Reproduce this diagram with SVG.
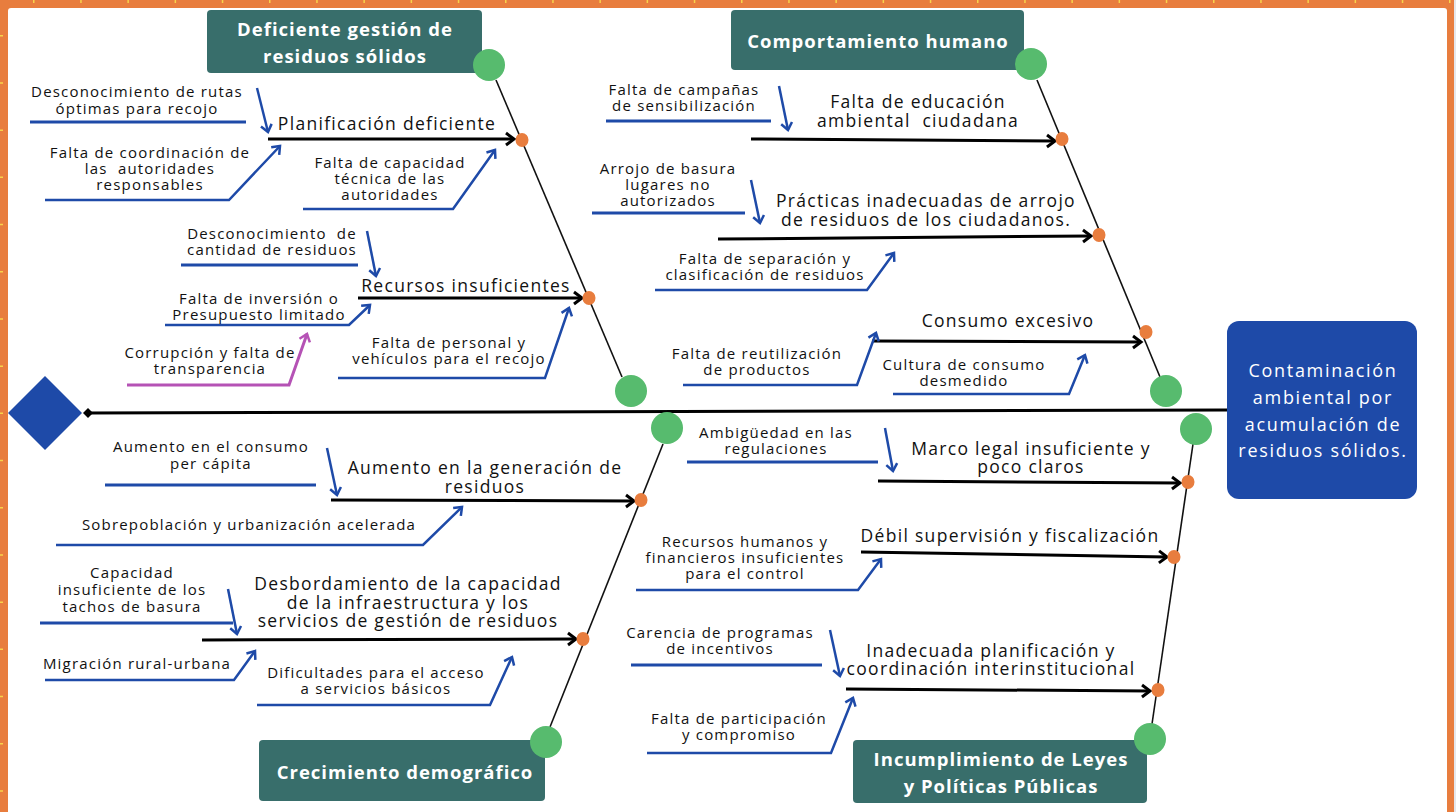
<svg xmlns="http://www.w3.org/2000/svg" width="1456" height="812" viewBox="0 0 1456 812">
<defs>
<style>
text{font-family:"Open Sans","Liberation Sans",sans-serif;dominant-baseline:central;text-anchor:middle}
.cat{font-weight:700;fill:#fff;font-size:18.5px;letter-spacing:1px}
.sub{font-size:17.5px;fill:#111;letter-spacing:1.3px}
.det{font-size:15px;fill:#111;letter-spacing:1.2px}
.eff{font-size:18px;fill:#fff;letter-spacing:1.7px}
.box{fill:#386E6B}
.knob{fill:#57BB6E}
.dot{fill:#E87D3E}
.bone{stroke:#111;stroke-width:1.6;fill:none}
.main{stroke:#000;stroke-width:3;fill:none;marker-end:url(#ak)}
.ul{stroke:#1E4AA8;stroke-width:3;fill:none}
.ba{stroke:#1E4AA8;stroke-width:2.5;fill:none;marker-end:url(#ab)}
.pa{stroke:#B552B5;stroke-width:3;fill:none;marker-end:url(#ap)}
</style>
<marker id="ak" markerUnits="userSpaceOnUse" markerWidth="14" markerHeight="16" refX="11" refY="8" orient="auto"><path d="M3,2 L11,8 L3,14" fill="none" stroke="#000" stroke-width="3"/></marker>
<marker id="ab" markerUnits="userSpaceOnUse" markerWidth="14" markerHeight="14" refX="10" refY="7" orient="auto"><path d="M3,1.5 L10,7 L3,12.5" fill="none" stroke="#1E4AA8" stroke-width="2.5"/></marker>
<marker id="ap" markerUnits="userSpaceOnUse" markerWidth="14" markerHeight="14" refX="10" refY="7" orient="auto"><path d="M3,1.5 L10,7 L3,12.5" fill="none" stroke="#B552B5" stroke-width="2.5"/></marker>
</defs>

<g id="frame">
<rect x="0" y="0" width="1456" height="812" fill="#E87D3E"/>
<rect x="1454" y="0" width="2" height="812" fill="#E6E6EA"/>
<rect x="8" y="8" width="1439" height="810" rx="3" fill="#FFFFFF"/>
<line x1="33" y1="0" x2="1456" y2="0" stroke="#F7D34A" stroke-width="6" stroke-dasharray="1.5 45.7"/>
<line x1="0" y1="35" x2="0" y2="812" stroke="#F7D34A" stroke-width="6" stroke-dasharray="1.5 45.7"/>
</g>

<g id="connectors">
<line x1="88" y1="413" x2="1227" y2="410" stroke="#000" stroke-width="3"/>
<path d="M83,413 L88,408 L93,413 L88,418 Z" fill="#000"/>
<line class="bone" x1="496" y1="80" x2="622" y2="377"/>
<line class="bone" x1="1037" y1="80" x2="1160" y2="377"/>
<line class="bone" x1="663" y1="444" x2="550" y2="727"/>
<line class="bone" x1="1193" y1="444" x2="1152" y2="724"/>

<line class="main" x1="268" y1="139" x2="514" y2="139"/>
<line class="main" x1="358" y1="298" x2="582" y2="298"/>
<line class="main" x1="751" y1="139" x2="1055" y2="141"/>
<line class="main" x1="718" y1="239" x2="1091" y2="236"/>
<line class="main" x1="872" y1="341" x2="1141" y2="342"/>
<line class="main" x1="331" y1="500" x2="634" y2="501"/>
<line class="main" x1="202" y1="640" x2="576" y2="639"/>
<line class="main" x1="878" y1="481" x2="1180" y2="483"/>
<line class="main" x1="861" y1="552" x2="1167" y2="557"/>
<line class="main" x1="846" y1="689" x2="1150" y2="691"/>

<line class="ul" x1="30" y1="122" x2="246" y2="122"/>
<line class="ba" x1="257" y1="88" x2="268" y2="132"/>
<polyline class="ba" points="45,200 229,200 280,146"/>
<polyline class="ba" points="303,209 453,209 495,150"/>
<line class="ul" x1="181" y1="265" x2="358" y2="265"/>
<line class="ba" x1="367" y1="231" x2="376" y2="276"/>
<polyline class="ba" points="165,325 349,325 370,305"/>
<polyline class="pa" points="127,385 289,385 307,334"/>
<polyline class="ba" points="338,378 545,378 569,308"/>

<line class="ul" x1="606" y1="121" x2="771" y2="121"/>
<line class="ba" x1="779" y1="86" x2="788" y2="130"/>
<line class="ul" x1="592" y1="213" x2="745" y2="213"/>
<line class="ba" x1="751" y1="180" x2="760" y2="223"/>
<polyline class="ba" points="655,290 867,290 894,253"/>
<polyline class="ba" points="683,385 857,385 876,333"/>
<polyline class="ba" points="893,394 1069,394 1085,355"/>

<line class="ul" x1="105" y1="485" x2="316" y2="485"/>
<line class="ba" x1="327" y1="448" x2="337" y2="495"/>
<polyline class="ba" points="56,545 423,545 462,507"/>
<line class="ul" x1="40" y1="623" x2="233" y2="623"/>
<line class="ba" x1="228" y1="589" x2="237" y2="634"/>
<polyline class="ba" points="45,680 234,680 255,651"/>
<polyline class="ba" points="257,705 490,705 512,657"/>

<line class="ul" x1="687" y1="462" x2="878" y2="462"/>
<line class="ba" x1="885" y1="428" x2="893" y2="471"/>
<polyline class="ba" points="636,590 858,590 881,559"/>
<line class="ul" x1="631" y1="665" x2="822" y2="665"/>
<line class="ba" x1="830" y1="630" x2="840" y2="676"/>
<polyline class="ba" points="647,753 831,753 853,698"/>
</g>

<g id="dots">
<ellipse class="dot" cx="522" cy="140" rx="6.5" ry="7"/>
<ellipse class="dot" cx="589" cy="298" rx="6.5" ry="7"/>
<ellipse class="dot" cx="1062" cy="139" rx="6.5" ry="7"/>
<ellipse class="dot" cx="1099" cy="235" rx="6.5" ry="7"/>
<ellipse class="dot" cx="1146" cy="332" rx="6.5" ry="7"/>
<ellipse class="dot" cx="641" cy="500" rx="6.5" ry="7"/>
<ellipse class="dot" cx="583" cy="639" rx="6.5" ry="7"/>
<ellipse class="dot" cx="1188" cy="482" rx="6.5" ry="7"/>
<ellipse class="dot" cx="1174" cy="557" rx="6.5" ry="7"/>
<ellipse class="dot" cx="1158" cy="690" rx="6.5" ry="7"/>
</g>

<g id="head-diamond">
<path d="M45,376 L82,413 L45,450 L8,413 Z" fill="#1E4AA8"/>
</g>

<g id="effect">
<rect x="1227" y="321" width="190" height="178" rx="12" fill="#1E4AA8"/>
<text class="eff" x="1323" y="370">Contaminación</text>
<text class="eff" x="1323" y="397">ambiental por</text>
<text class="eff" x="1323" y="424">acumulación de</text>
<text class="eff" x="1323" y="450">residuos sólidos.</text>
</g>

<g id="cat-gestion">
<rect class="box" x="207" y="10" width="275" height="63" rx="4"/>
<text class="cat" x="345" y="28">Deficiente gestión de</text>
<text class="cat" x="345" y="55">residuos sólidos</text>
<circle class="knob" cx="489" cy="65" r="16"/>
<ellipse class="knob" cx="631" cy="391" rx="16" ry="16"/>
</g>

<g id="cat-comportamiento">
<rect class="box" x="731" y="10" width="293" height="60" rx="4"/>
<text class="cat" x="878" y="40">Comportamiento humano</text>
<circle class="knob" cx="1031" cy="64" r="16"/>
<circle class="knob" cx="1166" cy="391" r="16"/>
</g>

<g id="cat-crecimiento">
<rect class="box" x="259" y="740" width="286" height="61" rx="4"/>
<text class="cat" x="405" y="771">Crecimiento demográfico</text>
<circle class="knob" cx="667" cy="428" r="16"/>
<circle class="knob" cx="546" cy="742" r="16"/>
</g>

<g id="cat-leyes">
<rect class="box" x="853" y="740" width="294" height="63" rx="4"/>
<text class="cat" x="1001" y="758">Incumplimiento de Leyes</text>
<text class="cat" x="1001" y="785">y Políticas Públicas</text>
<circle class="knob" cx="1196" cy="429" r="16"/>
<circle class="knob" cx="1150" cy="739" r="16"/>
</g>

<g id="causes">
<text class="sub" x="387" y="123">Planificación deficiente</text>
<text class="sub" x="466" y="285">Recursos insuficientes</text>
<text class="sub" x="918" y="101">Falta de educación</text>
<text class="sub" x="918" y="120">ambiental&#160; ciudadana</text>
<text class="sub" x="926" y="200">Prácticas inadecuadas de arrojo</text>
<text class="sub" x="926" y="219">de residuos de los ciudadanos.</text>
<text class="sub" x="1008" y="320">Consumo excesivo</text>
<text class="sub" x="485" y="467">Aumento en la generación de</text>
<text class="sub" x="485" y="486">residuos</text>
<text class="sub" x="408" y="583">Desbordamiento de la capacidad</text>
<text class="sub" x="408" y="602">de la infraestructura y los</text>
<text class="sub" x="408" y="620">servicios de gestión de residuos</text>
<text class="sub" x="1031" y="448">Marco legal insuficiente y</text>
<text class="sub" x="1031" y="466">poco claros</text>
<text class="sub" x="1010" y="535">Débil supervisión y fiscalización</text>
<text class="sub" x="991" y="650">Inadecuada planificación y</text>
<text class="sub" x="991" y="668">coordinación interinstitucional</text>
</g>

<g id="details">
<text class="det" x="137" y="91">Desconocimiento de rutas</text>
<text class="det" x="137" y="108">óptimas para recojo</text>
<text class="det" x="150" y="152">Falta de coordinación de</text>
<text class="det" x="150" y="168">las&#160; autoridades</text>
<text class="det" x="150" y="184">responsables</text>
<text class="det" x="390" y="162">Falta de capacidad</text>
<text class="det" x="390" y="178">técnica de las</text>
<text class="det" x="390" y="194">autoridades</text>
<text class="det" x="272" y="233">Desconocimiento&#160; de</text>
<text class="det" x="272" y="249">cantidad de residuos</text>
<text class="det" x="259" y="298">Falta de inversión o</text>
<text class="det" x="259" y="314">Presupuesto limitado</text>
<text class="det" x="210" y="352">Corrupción y falta de</text>
<text class="det" x="210" y="368">transparencia</text>
<text class="det" x="449" y="342">Falta de personal y</text>
<text class="det" x="449" y="358">vehículos para el recojo</text>

<text class="det" x="684" y="89">Falta de campañas</text>
<text class="det" x="684" y="105">de sensibilización</text>
<text class="det" x="668" y="168">Arrojo de basura</text>
<text class="det" x="668" y="184">lugares no</text>
<text class="det" x="668" y="200">autorizados</text>
<text class="det" x="765" y="258">Falta de separación y</text>
<text class="det" x="765" y="274">clasificación de residuos</text>
<text class="det" x="757" y="353">Falta de reutilización</text>
<text class="det" x="757" y="369">de productos</text>
<text class="det" x="964" y="364">Cultura de consumo</text>
<text class="det" x="964" y="380">desmedido</text>

<text class="det" x="211" y="446">Aumento en el consumo</text>
<text class="det" x="211" y="463">per cápita</text>
<text class="det" x="249" y="524">Sobrepoblación y urbanización acelerada</text>
<text class="det" x="132" y="572">Capacidad</text>
<text class="det" x="132" y="589">insuficiente de los</text>
<text class="det" x="132" y="606">tachos de basura</text>
<text class="det" x="137" y="663">Migración rural-urbana</text>
<text class="det" x="376" y="672">Dificultades para el acceso</text>
<text class="det" x="376" y="688">a servicios básicos</text>

<text class="det" x="776" y="432">Ambigüedad en las</text>
<text class="det" x="776" y="448">regulaciones</text>
<text class="det" x="745" y="541">Recursos humanos y</text>
<text class="det" x="745" y="557">financieros insuficientes</text>
<text class="det" x="745" y="573">para el control</text>
<text class="det" x="720" y="632">Carencia de programas</text>
<text class="det" x="720" y="648">de incentivos</text>
<text class="det" x="739" y="718">Falta de participación</text>
<text class="det" x="739" y="734">y compromiso</text>
</g>
</svg>
